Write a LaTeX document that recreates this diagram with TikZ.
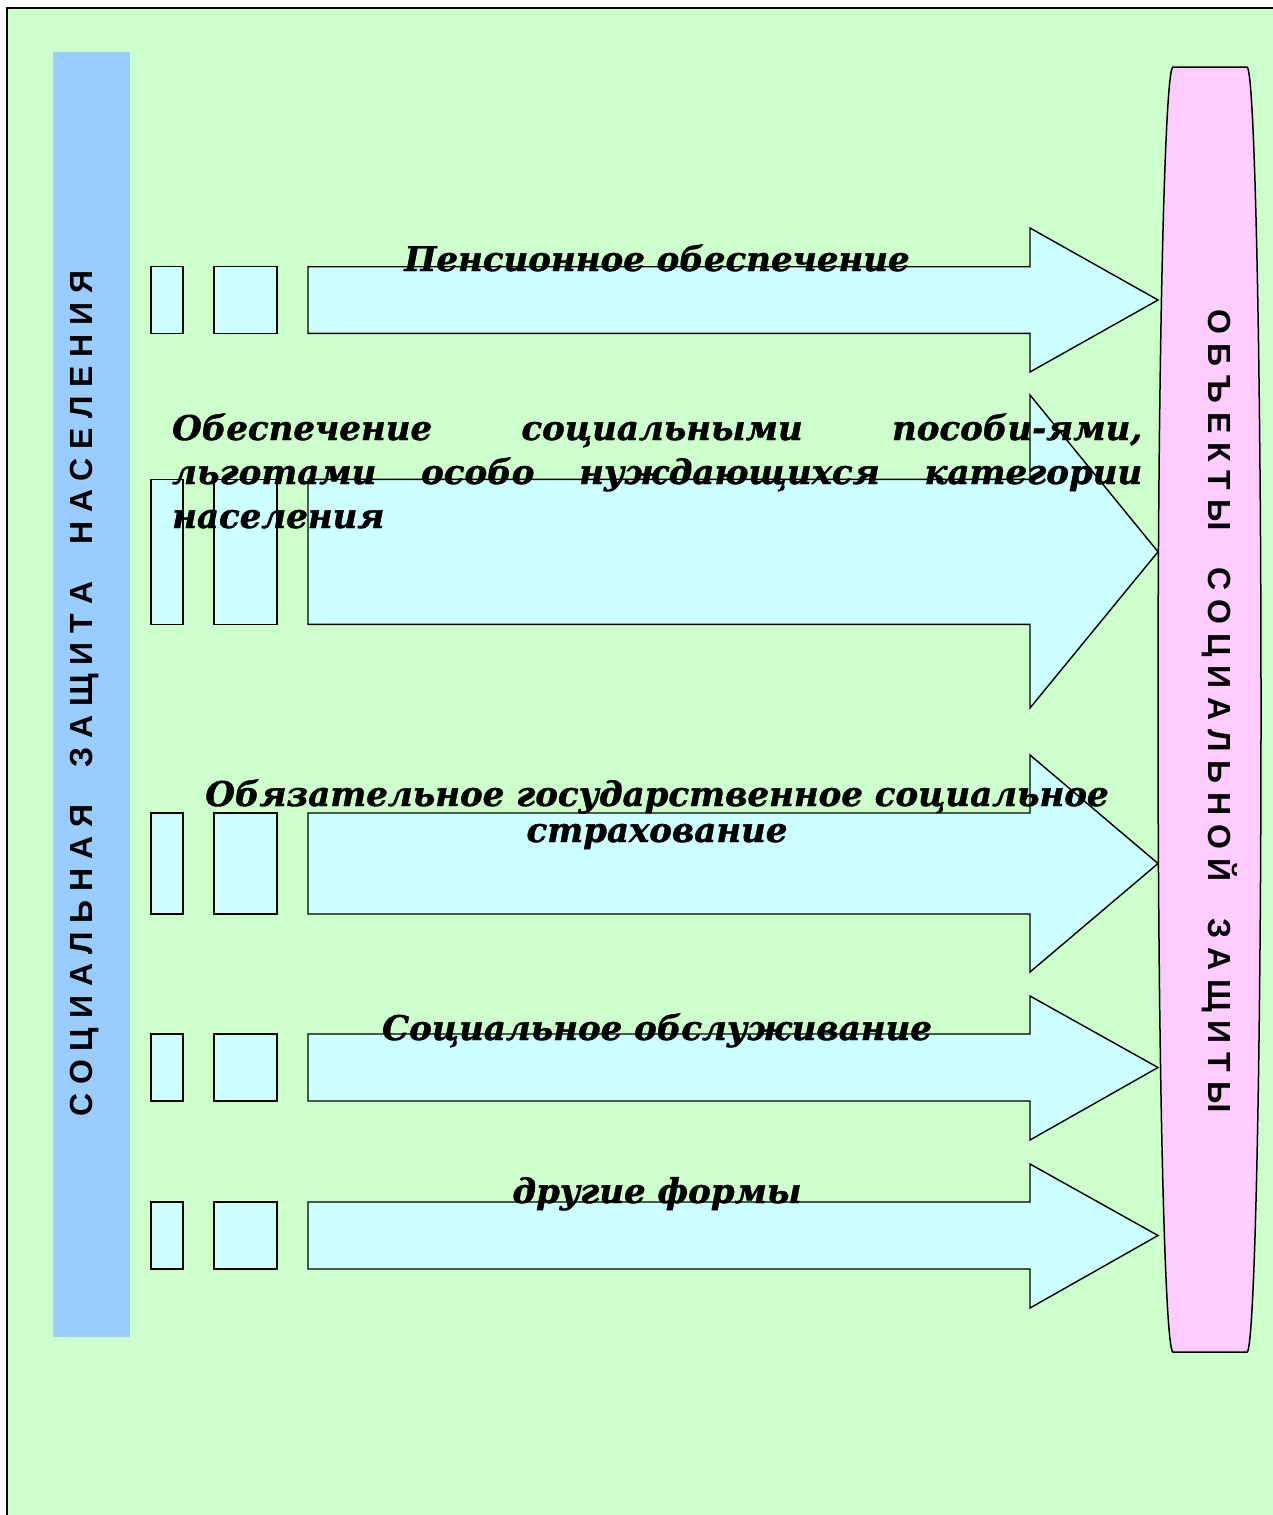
\documentclass[tikz,border=0pt]{standalone}
\usepackage{fontspec}
\newfontfamily\arrowfont{DejaVu Serif}[FakeBold=1.2]
\newfontfamily\barfont{Liberation Sans}
\definecolor{bggreen}{HTML}{CCFFCC}
\definecolor{barblue}{HTML}{99CCFF}
\definecolor{objpink}{HTML}{FFCCFF}
\definecolor{arrcyan}{HTML}{CCFFFF}
\tikzset{
  box/.style={fill=arrcyan, draw=black, line width=1.4pt, line join=miter},
  lab/.style={font=\arrowfont\bfseries\itshape\fontsize{34}{40}\selectfont, inner sep=0pt, anchor=base},
  vlab/.style={font=\barfont\bfseries\fontsize{32}{36}\selectfont, inner sep=0pt, anchor=base},
}
\newcommand\ArrowRow[5]{%
  \draw[box] (151,#1) rectangle (183,#2);
  \draw[box] (214,#1) rectangle (277,#2);
  \draw[box] (308,#1) -- (1030,#1) -- (1030,#3) -- (1158,#5) -- (1030,#4) -- (1030,#2) -- (308,#2) -- cycle;
}
\begin{document}
\begin{tikzpicture}[x=1pt,y=-1pt]
\useasboundingbox (0,0) rectangle (1273,1515);
\fill[white] (0,0) rectangle (1273,1515);
\fill[bggreen] (7,8) rectangle (1273,1515);
\draw[line width=1.6pt, line cap=rect] (7,1515) -- (7,8) -- (1273,8);
% left bar
\fill[barblue] (53,52) rectangle (130,1337);
\node[vlab, rotate=90] (lefttext) at (92,693.5)
  {С О Ц И А Л Ь Н А Я\hspace{28pt} З А Щ И Т А\hspace{28pt} Н А С Е Л Е Н И Я};
% right pink shape
\draw[fill=objpink, line width=1.5pt]
  (1173,67) -- (1247,67)
  .. controls (1254.7,67) and (1261,354.6) .. (1261,709.5)
  .. controls (1261,1064.4) and (1254.7,1352) .. (1247,1352)
  -- (1173,1352)
  .. controls (1164.7,1352) and (1158,1064.4) .. (1158,709.5)
  .. controls (1158,354.6) and (1164.7,67) .. cycle;
\node[vlab, rotate=-90] (righttext) at (1208,711)
  {О Б Ъ Е К Т Ы\hspace{28pt} С О Ц И А Л Ь Н О Й\hspace{28pt} З А Щ И Т Ы};
% arrows
\ArrowRow{266.7}{333.3}{228}{372}{300}
\ArrowRow{479.3}{624.3}{395}{708}{551.8}
\ArrowRow{813}{914}{755}{972}{863.5}
\ArrowRow{1034}{1101}{996}{1140}{1067.5}
\ArrowRow{1202}{1269}{1164}{1308}{1235.5}
% labels
\node[lab] (t1) at (657,271) {Пенсионное обеспечение};
\node[lab, anchor=base west] (t2a) at (172,440) {\hbox to 970pt{Обеспечение\hfill социальными\hfill пособи-ями,}};
\node[lab, anchor=base west] (t2b) at (172,484) {\hbox to 970pt{льготами\hfill особо\hfill нуждающихся\hfill категории}};
\node[lab, anchor=base west] (t2c) at (172,528) {населения};
\node[lab] (t3a) at (657,806) {Обязательное государственное социальное};
\node[lab] (t3b) at (657,842) {страхование};
\node[lab] (t4) at (657,1040) {Социальное обслуживание};
\node[lab] (t5) at (657,1203) {другие формы};
\end{tikzpicture}
\end{document}
